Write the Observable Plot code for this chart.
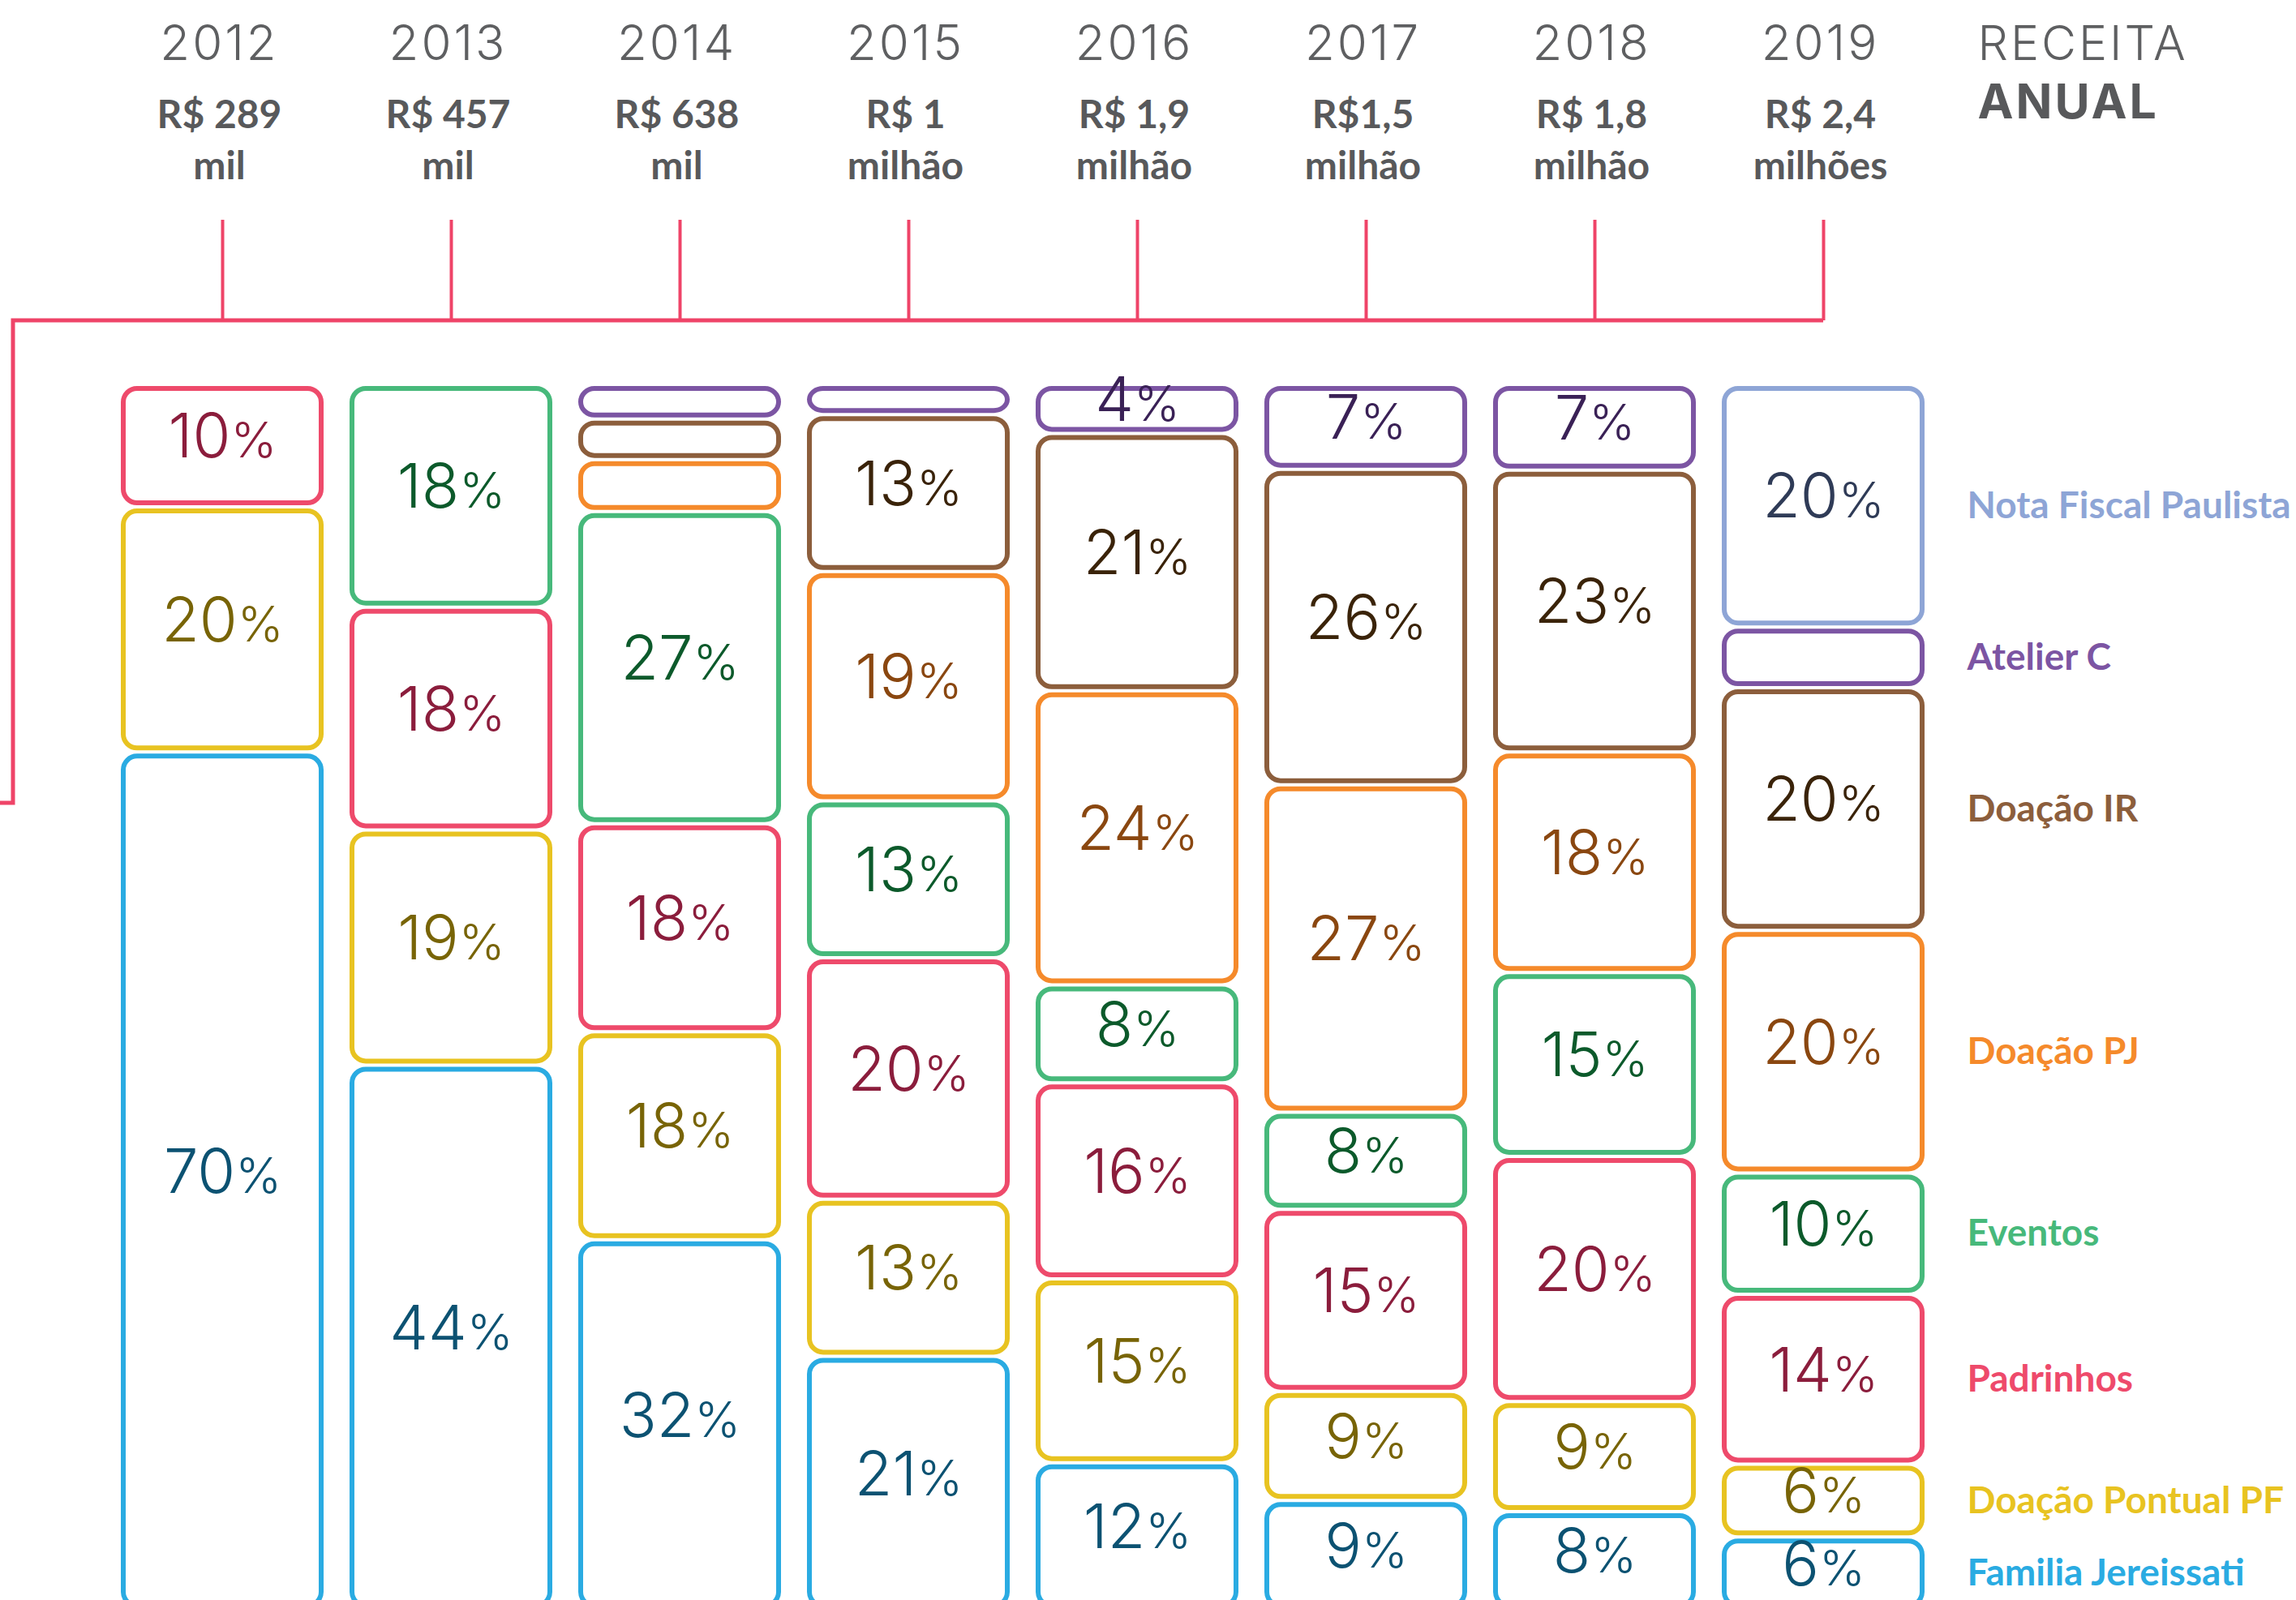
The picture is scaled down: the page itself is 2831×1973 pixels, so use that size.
<!DOCTYPE html>
<html>
<head>
<meta charset="utf-8">
<script src="https://cdn.jsdelivr.net/npm/d3@7"></script>
<script src="https://cdn.jsdelivr.net/npm/@observablehq/plot@0.6"></script>
<style>
  html, body { margin: 0; padding: 0; background: #fff; overflow: hidden; }
</style>
</head>
<body>
<div id="chart"></div>
<script>
// ---------- data ----------
const years = ["2012", "2013", "2014", "2015", "2016", "2017", "2018", "2019"];
const revenue = ["R$ 289\nmil", "R$ 457\nmil", "R$ 638\nmil", "R$ 1\nmilhão",
                 "R$ 1,9\nmilhão", "R$1,5\nmilhão", "R$ 1,8\nmilhão", "R$ 2,4\nmilhões"];

// categories, top to bottom
const categories = ["Nota Fiscal Paulista", "Atelier C", "Doação IR", "Doação PJ",
                    "Eventos", "Padrinhos", "Doação Pontual PF", "Familia Jereissati"];

// shares (%) per year, null = not present
const notaFiscal   = [null, null, null, null, null, null, null, 20];
const atelierC     = [null, null, 3,    2.5,  4,    7,    7,    5];
const doacaoIR     = [null, null, 3.5,  13,   21,   26,   23,   20];
const doacaoPJ     = [null, null, 4.5,  19,   24,   27,   18,   20];
const eventos      = [null, 18,   27,   13,   8,    8,    15,   10];
const padrinhos    = [10,   18,   18,   20,   16,   15,   20,   14];
const pontualPF    = [20,   19,   18,   13,   15,   9,    9,    6];
const jereissati   = [70,   44,   32,   21,   12,   9,    8,    6];

// boxes drawn without a printed value (sizes)
const unlabeled = [["2014", "Atelier C"], ["2014", "Doação IR"], ["2014", "Doação PJ"],
                   ["2015", "Atelier C"], ["2019", "Atelier C"]];

const strokeColors = ["#8ea5d6", "#7c55a3", "#8c5e3c", "#f58a2b", "#47b97b", "#ee4a6b", "#e8c321", "#2aabe2"];
const textColors   = ["#2f3b57", "#3a2156", "#3a2309", "#8a4710", "#0c5a2b", "#8b1d3c", "#786406", "#0c5272"];
const legendColors = ["#8ea5d6", "#7c55a3", "#8c5e3c", "#f58a2b", "#47b97b", "#ee4a6b", "#e8c321", "#2aabe2"];

// ---------- table ----------
const seriesByCat = [notaFiscal, atelierC, doacaoIR, doacaoPJ, eventos, padrinhos, pontualPF, jereissati];
const stackOrder = categories.slice().reverse(); // bottom to top
const rows = [];
stackOrder.forEach(cat => {
  const ci = categories.indexOf(cat);
  seriesByCat[ci].forEach((v, yi) => {
    if (v == null) return;
    const yr = years[yi];
    const hidden = unlabeled.some(([a, b]) => a === yr && b === cat);
    rows.push({year: yr, cat, value: v, label: hidden ? null : `${v}%`,
               stroke: strokeColors[ci], ink: textColors[ci], legend: legendColors[ci]});
  });
});

// ---------- chart ----------
const W = 2831, H = 1973;
const pink = "#ef4468";
const stack = opts => Plot.stackY({offset: "normalize", order: stackOrder}, opts);

const chart = Plot.plot({
  width: W,
  height: H,
  marginTop: 0, marginBottom: 0, marginLeft: 0, marginRight: 0,
  x: {type: "band", domain: years, range: [152, 2370], paddingInner: 0.135, paddingOuter: 0, axis: null},
  y: {domain: [0, 1], range: [1985, 474], axis: null},
  color: {type: "identity"},
  style: {background: "white", fontFamily: "Inter, Lato, sans-serif"},
  marks: [
    // bracket ticks
    Plot.ruleX(years, {x: d => d, insetTop: 271, insetBottom: H - 395, stroke: pink, strokeWidth: 4}),
    // boxes
    Plot.barY(rows, stack({
      x: "year", y: "value", z: "cat",
      stroke: "stroke", fill: "white", strokeWidth: 6, rx: 17,
      insetTop: 5, insetBottom: 5, insetLeft: 0, insetRight: 0
    })),
    // values
    Plot.text(rows, stack({
      x: "year", y: "value", z: "cat", text: "label", fill: "ink", dy: -10,
      fontSize: 76, fontWeight: 300, fontFamily: "Inter"
    })),
    // legend beside the 2019 column
    Plot.text(rows, stack({
      x: "year", y: "value", z: "cat",
      text: d => d.year === "2019" ? d.cat : null, fill: "legend",
      textAnchor: "start", dx: 177, fontSize: 46, fontWeight: 700, fontFamily: "Lato"
    })),
    // header: years
    Plot.text(years, {
      x: d => d, text: d => d, frameAnchor: "top", lineAnchor: "bottom", dy: 73, dx: -4,
      fontSize: 60, fontWeight: 300, fontFamily: "Inter", fill: "#5e5f61"
    }),
    // header: revenue
    Plot.text(years, {
      x: d => d, text: (d, i) => revenue[i], frameAnchor: "top", lineAnchor: "bottom",
      dy: 220, dx: -4, lineHeight: 1.31,
      fontSize: 48, fontWeight: 700, fontFamily: "Lato", fill: "#58595b"
    }),
    Plot.text(["RECEITA"], {
      x: () => "2019", text: d => d, frameAnchor: "top", lineAnchor: "bottom", dy: 73, dx: 190,
      textAnchor: "start", fontSize: 59, fontWeight: 300, fontFamily: "Inter", fill: "#5e5f61"
    }),
    Plot.text(["ANUAL"], {
      x: () => "2019", text: d => d, frameAnchor: "top", lineAnchor: "bottom", dy: 145, dx: 190,
      textAnchor: "start", fontSize: 59, fontWeight: 700, fontFamily: "Inter", fill: "#58595b"
    })
  ]
});

document.getElementById("chart").appendChild(chart);

// ---------- decorations ----------
const svgNS = "http://www.w3.org/2000/svg";
const xs = chart.scale("x");
const cx = v => xs.apply(v) + xs.bandwidth / 2;
const path = document.createElementNS(svgNS, "path");
path.setAttribute("d", `M${cx(years[years.length - 1])},395 H16 V990 H0`);
path.setAttribute("fill", "none");
path.setAttribute("stroke", pink);
path.setAttribute("stroke-width", "5");
chart.appendChild(path);

// smaller % sign, letter spacing for the header words
chart.querySelectorAll("text").forEach(t => {
  const s = t.textContent;
  if (/^\d+%$/.test(s)) {
    t.textContent = s.slice(0, -1);
    const ts = document.createElementNS(svgNS, "tspan");
    ts.setAttribute("font-size", "0.8em");
    ts.textContent = "%";
    t.appendChild(ts);
  } else if (s === "RECEITA" || s === "ANUAL") {
    t.setAttribute("letter-spacing", "3");
  } else if (/^20\d\d$/.test(s)) {
    t.setAttribute("letter-spacing", "3");
  }
});
</script>
</body>
</html>
